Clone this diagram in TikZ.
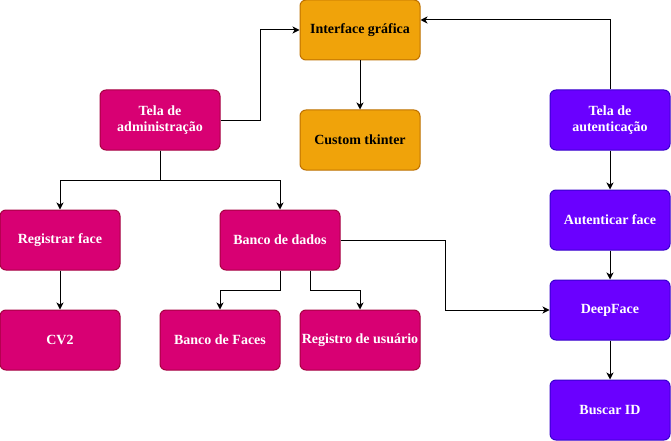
\documentclass[tikz,border=0pt]{standalone}
\usepackage{fontspec}
\setmainfont{Liberation Serif}
\usetikzlibrary{arrows.meta}
\definecolor{orfill}{HTML}{F0A30A}
\definecolor{ordraw}{HTML}{BD7000}
\definecolor{pkfill}{HTML}{D80073}
\definecolor{pkdraw}{HTML}{A50040}
\definecolor{pufill}{HTML}{6A00FF}
\definecolor{pudraw}{HTML}{3700CC}
\tikzset{
  box/.style={rectangle, rounded corners=6pt, minimum width=120pt, minimum height=60pt, inner sep=1pt, align=center, font=\fontsize{14}{16}\selectfont\bfseries, line width=1pt},
  orbox/.style={box, fill=orfill, draw=ordraw, text=black},
  pkbox/.style={box, fill=pkfill, draw=pkdraw, text=white},
  pubox/.style={box, fill=pufill, draw=pudraw, text=white},
  conn/.style={line width=1pt, -{Stealth[length=7pt,width=7pt,inset=2pt]}}
}
\begin{document}
\begin{tikzpicture}[x=1pt,y=-1pt]
\useasboundingbox (0,0) rectangle (671,441);
\node[orbox] (gui) at (360,30) {Interface gráfica};
\node[orbox] (ctk) at (360,140) {Custom tkinter};
\node[pkbox] (adm) at (160,120) {Tela de\\administração};
\node[pubox] (aut) at (610,120) {Tela de\\autenticação};
\node[pkbox] (reg) at (60,240) {Registrar face};
\node[pkbox] (bd) at (280,240) {Banco de dados};
\node[pubox] (autf) at (610,220) {Autenticar face};
\node[pkbox] (cv2) at (60,340) {CV2};
\node[pkbox] (bf) at (220,340) {Banco de Faces};
\node[pkbox] (ru) at (360,340) {Registro de usuário};
\node[pubox] (df) at (610,310) {DeepFace};
\node[pubox] (bid) at (610,410) {Buscar ID};

\draw[conn] (adm.east) -- (260,120) -- (260,30) -- (gui.west);
\draw[conn] (aut.north) -- (610,20) -- (gui.east |- 0,20);
\draw[conn] (gui) -- (ctk);
\draw[conn] (adm.south) -- (160,180) -- (60,180) -- (reg.north);
\draw[conn] (adm.south) -- (160,180) -- (280,180) -- (bd.north);
\draw[conn] (reg) -- (cv2);
\draw[conn] (bd.south) -- (280,290) -- (220,290) -- (bf.north);
\draw[conn] (bd.south -| 310,0) -- (310,290) -- (360,290) -- (ru.north);
\draw[conn] (bd.east) -- (445,240) -- (445,310) -- (df.west);
\draw[conn] (aut) -- (autf);
\draw[conn] (autf) -- (df);
\draw[conn] (df) -- (bid);
\end{tikzpicture}
\end{document}
